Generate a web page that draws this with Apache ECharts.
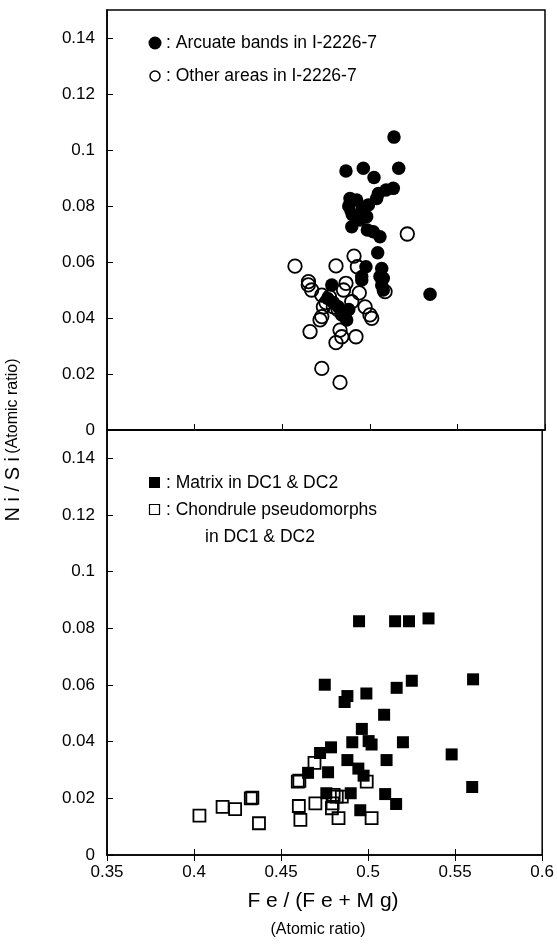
<!DOCTYPE html>
<html>
<head>
<meta charset="utf-8">
<script src="https://cdn.jsdelivr.net/npm/echarts@6/dist/echarts.min.js"></script>
<style>
  html, body { margin: 0; padding: 0; background: #fff; }
  #root { width: 557px; height: 945px; }
</style>
</head>
<body>
<div id="root"></div>
<script>
// top panel: I-2226-7
const arcuateBands = [
  [0.5138, 0.1046], [0.4864, 0.0925], [0.4963, 0.0935], [0.5165, 0.0935],
  [0.5024, 0.0902], [0.5134, 0.0863], [0.5093, 0.0857], [0.5049, 0.0845],
  [0.5039, 0.0827], [0.4887, 0.0827], [0.4925, 0.0821], [0.4992, 0.0804],
  [0.4954, 0.0786], [0.4880, 0.0800], [0.4900, 0.0770], [0.4982, 0.0762],
  [0.4944, 0.0750], [0.4897, 0.0726], [0.4986, 0.0714], [0.5020, 0.0708],
  [0.5058, 0.0690], [0.5045, 0.0633], [0.4978, 0.0583], [0.5068, 0.0577],
  [0.4954, 0.0548], [0.5077, 0.0542], [0.4783, 0.0518], [0.4954, 0.0536],
  [0.5058, 0.0548], [0.5068, 0.0518], [0.5077, 0.0500], [0.5344, 0.0485],
  [0.4840, 0.0411], [0.4868, 0.0393], [0.4792, 0.0455], [0.4820, 0.0440],
  [0.4760, 0.0470], [0.4880, 0.0430]
];
const otherAreas = [
  [0.4897, 0.0786], [0.5214, 0.0700], [0.4910, 0.0621], [0.4573, 0.0585],
  [0.4807, 0.0586], [0.4929, 0.0583], [0.4864, 0.0524], [0.4649, 0.0518],
  [0.4668, 0.0500], [0.5087, 0.0494], [0.4726, 0.0482], [0.4897, 0.0458],
  [0.4735, 0.0440], [0.4792, 0.0440], [0.4820, 0.0429], [0.4973, 0.0440],
  [0.5001, 0.0411], [0.5011, 0.0399], [0.4726, 0.0405], [0.4716, 0.0393],
  [0.4659, 0.0351], [0.4830, 0.0357], [0.4840, 0.0333], [0.4807, 0.0312],
  [0.4921, 0.0333], [0.4726, 0.0220], [0.4830, 0.0170], [0.4750, 0.0455],
  [0.4770, 0.0475], [0.4850, 0.0500], [0.4940, 0.0490], [0.4650, 0.0530]
];

// bottom panel: DC1 & DC2
const matrix = [
  [0.4948, 0.0825], [0.5155, 0.0825], [0.5235, 0.0825], [0.5347, 0.0835],
  [0.4751, 0.0601], [0.4881, 0.0561], [0.4865, 0.0540], [0.4990, 0.0570],
  [0.5164, 0.0590], [0.5251, 0.0615], [0.5603, 0.0620], [0.5092, 0.0495],
  [0.4964, 0.0445], [0.4909, 0.0398], [0.5003, 0.0402], [0.5020, 0.0390],
  [0.5200, 0.0398], [0.4787, 0.0380], [0.4724, 0.0360], [0.5480, 0.0355],
  [0.4881, 0.0335], [0.5106, 0.0335], [0.4944, 0.0305], [0.4974, 0.0280],
  [0.4655, 0.0290], [0.4770, 0.0292], [0.5598, 0.0240], [0.4760, 0.0218],
  [0.4900, 0.0218], [0.5098, 0.0215], [0.5161, 0.0180], [0.4955, 0.0158]
];
const chondrules = [
  [0.4031, 0.0139], [0.4164, 0.0170], [0.4236, 0.0162], [0.4326, 0.0200],
  [0.4335, 0.0202], [0.4373, 0.0112], [0.4596, 0.0259], [0.4605, 0.0262],
  [0.4602, 0.0173], [0.4611, 0.0124], [0.4697, 0.0182], [0.4802, 0.0212],
  [0.4820, 0.0206], [0.4796, 0.0182], [0.4792, 0.0165], [0.4830, 0.0130],
  [0.4849, 0.0206], [0.4992, 0.0259], [0.4692, 0.0325], [0.5020, 0.0130]
];

const xTicks = [0.35, 0.4, 0.45, 0.5, 0.55, 0.6];
const yTicks = [0, 0.02, 0.04, 0.06, 0.08, 0.1, 0.12, 0.14];

const FONT = 'Liberation Sans, Arial, sans-serif';
const LEG = '17.5px ' + FONT;
const chart = echarts.init(document.getElementById('root'));

const xBase = {
  type: 'value', min: xTicks[0], max: xTicks[xTicks.length - 1], interval: 0.05,
  splitLine: { show: false },
  axisLine: { lineStyle: { color: '#000', width: 1.5 } }
};
const yBase = {
  type: 'value', min: 0, max: 0.15, interval: 0.02,
  splitLine: { show: false },
  axisLine: { lineStyle: { color: '#000', width: 1.5 } },
  axisTick: { inside: true, length: 6, lineStyle: { color: '#000' } },
  axisLabel: {
    color: '#000', fontFamily: FONT, fontSize: 17, margin: 12,
    showMaxLabel: false,
    formatter: (v) => (yTicks.some((t) => Math.abs(t - v) < 1e-9) ? String(+v.toFixed(2)) : '')
  }
};

function pts(name, data, xi, yi, symbol, size, filled) {
  return {
    name, type: 'scatter', xAxisIndex: xi, yAxisIndex: yi,
    symbol, symbolSize: size, data,
    itemStyle: filled
      ? { color: '#000', opacity: 1 }
      : { color: 'rgba(255,255,255,0)', borderColor: '#000', borderWidth: 1.8, opacity: 1 }
  };
}

chart.setOption({
  animation: false,
  backgroundColor: '#fff',
  grid: [
    { left: 107, top: 10, width: 438, height: 420, show: true, borderColor: '#000', borderWidth: 1.5 },
    { left: 107, top: 430, width: 438, height: 425, show: true, borderColor: '#000', borderWidth: 1.5 }
  ],
  xAxis: [
    Object.assign({}, xBase, {
      gridIndex: 0,
      axisTick: { inside: true, length: 6, lineStyle: { color: '#000' } },
      axisLabel: { show: false }
    }),
    Object.assign({}, xBase, {
      gridIndex: 1,
      axisTick: { length: 6, lineStyle: { color: '#000' } },
      axisLabel: { color: '#000', fontFamily: FONT, fontSize: 17, margin: 9 }
    }),
    Object.assign({}, xBase, {
      gridIndex: 1, position: 'bottom',
      axisLine: { show: false },
      axisTick: { inside: true, length: 6, lineStyle: { color: '#000' } },
      axisLabel: { show: false }
    })
  ],
  yAxis: [
    Object.assign({}, yBase, { gridIndex: 0 }),
    Object.assign({}, yBase, { gridIndex: 1 })
  ],
  series: [
    pts('Other areas in I-2226-7', otherAreas, 0, 0, 'circle', 13.5, false),
    pts('Arcuate bands in I-2226-7', arcuateBands, 0, 0, 'circle', 13.5, true),
    pts('Chondrule pseudomorphs in DC1 & DC2', chondrules, 1, 1, 'rect', 12, false),
    pts('Matrix in DC1 & DC2', matrix, 1, 1, 'rect', 12, true)
  ],
  graphic: [
    // legend keys
    { type: 'circle', shape: { cx: 155, cy: 43, r: 6.5 }, style: { fill: '#000' } },
    { type: 'circle', shape: { cx: 155, cy: 76, r: 5 }, style: { fill: 'none', stroke: '#000', lineWidth: 1.5 } },
    { type: 'rect', shape: { x: 149, y: 477, width: 11, height: 11 }, style: { fill: '#000' } },
    { type: 'rect', shape: { x: 149.5, y: 504.5, width: 10, height: 10 }, style: { fill: 'none', stroke: '#000', lineWidth: 1.2 } },
    // legend texts
    { type: 'text', x: 166, y: 43, style: { text: ': Arcuate bands in I-2226-7', fill: '#000', font: LEG, verticalAlign: 'middle' } },
    { type: 'text', x: 166, y: 76, style: { text: ': Other areas in I-2226-7', fill: '#000', font: LEG, verticalAlign: 'middle' } },
    { type: 'text', x: 166, y: 483, style: { text: ': Matrix in DC1 & DC2', fill: '#000', font: LEG, verticalAlign: 'middle' } },
    { type: 'text', x: 166, y: 510, style: { text: ': Chondrule pseudomorphs', fill: '#000', font: LEG, verticalAlign: 'middle' } },
    { type: 'text', x: 205, y: 537, style: { text: 'in DC1 & DC2', fill: '#000', font: LEG, verticalAlign: 'middle' } },
    // axis titles
    {
      type: 'text', x: 13, y: 440, rotation: Math.PI / 2,
      style: {
        text: '{a|N i / S i} {b|(Atomic ratio)}', align: 'center', verticalAlign: 'middle',
        rich: {
          a: { fontFamily: FONT, fontSize: 20, fill: '#000' },
          b: { fontFamily: FONT, fontSize: 16, fill: '#000' }
        }
      }
    },
    { type: 'text', x: 323, y: 901, style: { text: 'F e / (F e + M g)', align: 'center', verticalAlign: 'middle', fill: '#000', font: '21px ' + FONT } },
    { type: 'text', x: 318, y: 930, style: { text: '(Atomic ratio)', align: 'center', verticalAlign: 'middle', fill: '#000', font: '16px ' + FONT } }
  ]
});
</script>
</body>
</html>
